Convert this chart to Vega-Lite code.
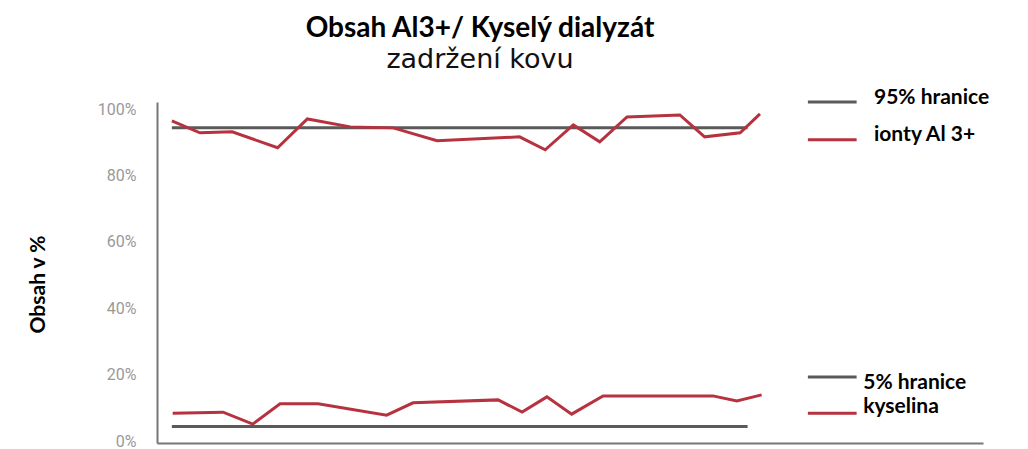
{
  "$schema": "https://vega.github.io/schema/vega-lite/v6.json",
  "width": 826,
  "height": 341,
  "autosize": {"type": "none"},
  "padding": {"left": 157, "top": 102, "right": 45, "bottom": 6},
  "background": "white",
  "title": {
    "text": "Obsah Al3+/ Kyselý dialyzát",
    "subtitle": "zadržení kovu",
    "anchor": "middle",
    "dx": -90,
    "offset": 14,
    "font": "Lato",
    "fontSize": 28,
    "fontWeight": "bold",
    "color": "#000000",
    "subtitleFont": "DejaVu Sans",
    "subtitleFontSize": 27,
    "subtitleColor": "#111111",
    "subtitlePadding": 4
  },
  "config": {"view": {"stroke": null}},
  "datasets": {
    "limits": [
      {"series": "95% hranice", "t": 1.8, "v": 95},
      {"series": "95% hranice", "t": 71.5, "v": 95},
      {"series": "5% hranice", "t": 1.8, "v": 5},
      {"series": "5% hranice", "t": 71.5, "v": 5}
    ],
    "measured": [
      {"series": "ionty Al 3+", "t": 1.8, "v": 97.1},
      {"series": "ionty Al 3+", "t": 5.2, "v": 93.5},
      {"series": "ionty Al 3+", "t": 9.1, "v": 93.8},
      {"series": "ionty Al 3+", "t": 14.6, "v": 89.0},
      {"series": "ionty Al 3+", "t": 18.2, "v": 97.7},
      {"series": "ionty Al 3+", "t": 23.4, "v": 95.3},
      {"series": "ionty Al 3+", "t": 28.6, "v": 95.0},
      {"series": "ionty Al 3+", "t": 33.9, "v": 91.1},
      {"series": "ionty Al 3+", "t": 43.9, "v": 92.3},
      {"series": "ionty Al 3+", "t": 47.0, "v": 88.4},
      {"series": "ionty Al 3+", "t": 50.4, "v": 95.9},
      {"series": "ionty Al 3+", "t": 53.6, "v": 90.8},
      {"series": "ionty Al 3+", "t": 56.9, "v": 98.3},
      {"series": "ionty Al 3+", "t": 63.3, "v": 98.9},
      {"series": "ionty Al 3+", "t": 66.3, "v": 92.3},
      {"series": "ionty Al 3+", "t": 70.6, "v": 93.5},
      {"series": "ionty Al 3+", "t": 73.0, "v": 99.2},
      {"series": "kyselina", "t": 1.9, "v": 9.0},
      {"series": "kyselina", "t": 8.0, "v": 9.3},
      {"series": "kyselina", "t": 11.6, "v": 5.7},
      {"series": "kyselina", "t": 14.9, "v": 11.8},
      {"series": "kyselina", "t": 19.5, "v": 11.8},
      {"series": "kyselina", "t": 27.8, "v": 8.4},
      {"series": "kyselina", "t": 31.0, "v": 12.1},
      {"series": "kyselina", "t": 41.3, "v": 13.0},
      {"series": "kyselina", "t": 44.2, "v": 9.3},
      {"series": "kyselina", "t": 47.2, "v": 13.9},
      {"series": "kyselina", "t": 50.2, "v": 8.7},
      {"series": "kyselina", "t": 54.0, "v": 14.2},
      {"series": "kyselina", "t": 67.3, "v": 14.2},
      {"series": "kyselina", "t": 70.2, "v": 12.7},
      {"series": "kyselina", "t": 73.2, "v": 14.5}
    ],
    "legend": [
      {"label": "95% hranice", "kind": "hranice", "t1": 78.8, "t2": 84.7, "v": 102.8, "tx": 86.8, "ty": 104.0},
      {"label": "ionty Al 3+", "kind": "mereni", "t1": 78.8, "t2": 84.7, "v": 91.4, "tx": 86.8, "ty": 92.9},
      {"label": "5% hranice", "kind": "hranice", "t1": 78.8, "t2": 84.7, "v": 19.9, "tx": 85.5, "ty": 18.1},
      {"label": "kyselina", "kind": "mereni", "t1": 78.8, "t2": 84.7, "v": 9.0, "tx": 85.5, "ty": 10.9}
    ]
  },
  "layer": [
    {
      "data": {"name": "limits"},
      "mark": {"type": "line", "strokeWidth": 3, "color": "#5a5a5a"},
      "encoding": {
        "x": {
          "field": "t", "type": "quantitative",
          "scale": {"domain": [0, 100], "nice": false},
          "axis": {"labels": false, "ticks": false, "grid": false, "domainColor": "#777777", "domainWidth": 2, "title": null}
        },
        "y": {
          "field": "v", "type": "quantitative",
          "scale": {"domain": [0, 102.8], "nice": false},
          "axis": {
            "values": [0, 20, 40, 60, 80, 100],
            "labelExpr": "datum.value + '%'",
            "ticks": false, "grid": false,
            "domainColor": "#777777", "domainWidth": 2,
            "labelFont": "Roboto", "labelFontSize": 16, "labelColor": "#999999", "labelPadding": 21,
            "labelOffset": -2,
            "title": "Obsah v %",
            "titleFont": "Lato", "titleFontSize": 21, "titleFontWeight": "bold", "titleColor": "#000000",
            "titleX": -109, "titleY": 182
          }
        },
        "detail": {"field": "series"}
      }
    },
    {
      "data": {"name": "measured"},
      "mark": {"type": "line", "strokeWidth": 3, "color": "#b7323f"},
      "encoding": {
        "x": {"field": "t", "type": "quantitative"},
        "y": {"field": "v", "type": "quantitative"},
        "detail": {"field": "series"}
      }
    },
    {
      "data": {"name": "legend"},
      "mark": {"type": "rule", "strokeWidth": 3},
      "encoding": {
        "x": {"field": "t1", "type": "quantitative"},
        "x2": {"field": "t2"},
        "y": {"field": "v", "type": "quantitative"},
        "color": {"field": "kind", "type": "nominal", "scale": {"domain": ["hranice", "mereni"], "range": ["#5a5a5a", "#b7323f"]}, "legend": null}
      }
    },
    {
      "data": {"name": "legend"},
      "mark": {"type": "text", "align": "left", "baseline": "middle", "font": "Lato", "fontSize": 21, "fontWeight": "bold", "color": "#000000"},
      "encoding": {
        "x": {"field": "tx", "type": "quantitative"},
        "y": {"field": "ty", "type": "quantitative"},
        "text": {"field": "label"}
      }
    }
  ]
}
